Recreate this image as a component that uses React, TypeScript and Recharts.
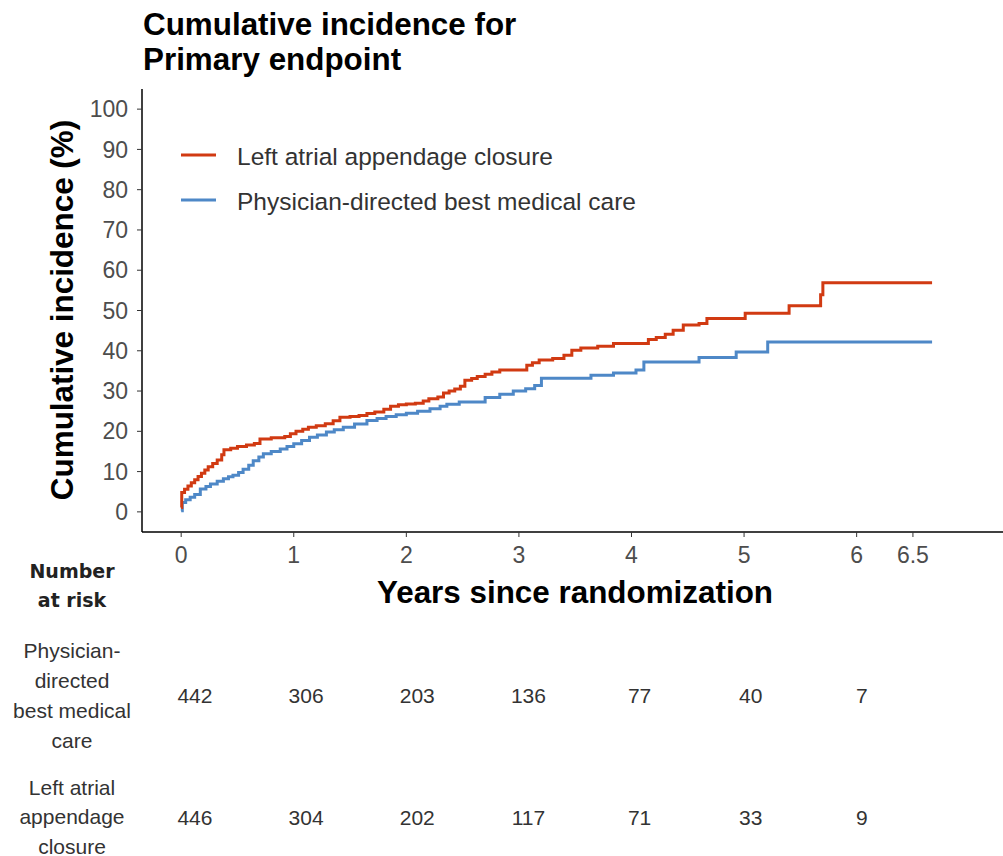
import { LineChart, Line, XAxis, YAxis, ScatterChart, Scatter } from 'recharts'

// cumulative incidence (%), step curves
const laacYears = [0, 0.005, 0.03, 0.06, 0.09, 0.12, 0.15, 0.18, 0.21, 0.24, 0.28, 0.32, 0.36, 0.38, 0.44, 0.5, 0.58, 0.65, 0.7, 0.8, 0.92, 0.97, 1.02, 1.08, 1.13, 1.2, 1.28, 1.35, 1.41, 1.5, 1.58, 1.65, 1.72, 1.8, 1.86, 1.93, 2.0, 2.08, 2.15, 2.2, 2.28, 2.33, 2.38, 2.43, 2.48, 2.52, 2.58, 2.63, 2.7, 2.76, 2.83, 3.07, 3.12, 3.18, 3.3, 3.4, 3.47, 3.55, 3.7, 3.84, 4.15, 4.22, 4.3, 4.37, 4.46, 4.6, 4.67, 5.01, 5.4, 5.68, 5.7, 6.67]
const laacPct = [1.1, 4.8, 5.6, 6.4, 7.2, 8.0, 8.8, 9.6, 10.4, 11.2, 12.0, 12.9, 14.2, 15.4, 15.8, 16.2, 16.6, 17.0, 18.1, 18.4, 18.7, 19.4, 20.0, 20.5, 21.0, 21.4, 21.9, 22.6, 23.5, 23.7, 23.9, 24.4, 24.8, 25.5, 26.2, 26.6, 26.8, 27.0, 27.5, 28.1, 28.5, 29.5, 30.0, 30.5, 31.2, 32.7, 33.1, 33.6, 34.2, 34.7, 35.2, 36.4, 37.0, 37.7, 38.1, 38.9, 40.1, 40.7, 41.1, 41.8, 42.8, 43.3, 44.1, 45.1, 46.4, 46.8, 48.0, 49.3, 51.2, 53.9, 56.9, 56.9]

const bmcYears = [0, 0.01, 0.04, 0.08, 0.12, 0.17, 0.22, 0.26, 0.32, 0.375, 0.42, 0.46, 0.51, 0.55, 0.6, 0.64, 0.69, 0.73, 0.8, 0.88, 0.94, 1.0, 1.07, 1.14, 1.21, 1.29, 1.36, 1.44, 1.54, 1.65, 1.74, 1.82, 1.91, 2.0, 2.1, 2.21, 2.3, 2.36, 2.47, 2.7, 2.83, 2.95, 3.06, 3.14, 3.2, 3.64, 3.84, 4.04, 4.11, 4.6, 4.93, 5.21, 6.67]
const bmcPct = [0.25, 2.3, 3.0, 3.6, 4.3, 5.7, 6.3, 6.9, 7.6, 8.2, 8.7, 9.1, 9.8, 10.6, 11.6, 12.7, 13.6, 14.4, 15.0, 15.6, 16.2, 16.9, 17.7, 18.5, 19.1, 19.8, 20.4, 21.0, 21.8, 22.7, 23.2, 23.7, 24.1, 24.5, 25.0, 25.6, 26.2, 26.7, 27.3, 28.4, 29.2, 30.0, 30.6, 31.4, 33.2, 33.9, 34.5, 35.2, 37.2, 38.3, 39.7, 42.2, 42.2]

const xTicks = [0, 1, 2, 3, 4, 5, 6, 6.5]
const yTicks = [0, 10, 20, 30, 40, 50, 60, 70, 80, 90, 100]

const riskYears = [0, 1, 2, 3, 4, 5, 6]
const riskBmc = [442, 306, 203, 136, 77, 40, 7]
const riskLaac = [446, 304, 202, 117, 71, 33, 9]

const seriesNames = ['Left atrial appendage closure', 'Physician-directed best medical care']
const seriesColors = ['#D13A12', '#4E88C7']
const riskLabels = [
  ['Physician-', 'directed', 'best medical', 'care'],
  ['Left atrial', 'appendage', 'closure'],
]

const FONT = '"Liberation Sans", Arial, sans-serif'

const laacData = laacYears.map((t, i) => ({ t, v: laacPct[i] }))
const bmcData = bmcYears.map((t, i) => ({ t, v: bmcPct[i] }))
const riskRows = [
  riskYears.map((t, i) => ({ t, row: 0, n: riskBmc[i] })),
  riskYears.map((t, i) => ({ t, row: 1, n: riskLaac[i] })),
]

const RiskNumber = (props: any) => (
  <text x={props.cx} y={props.cy} textAnchor="middle" dominantBaseline="central"
    fontSize={21} fill="#333" fontFamily={FONT}>
    {props.payload.n}
  </text>
)

export default function App() {
  return (
    <div style={{ position: 'absolute', left: 0, top: 0, width: 1003, height: 856, overflow: 'hidden', background: '#fff' }}>
      <div style={{ position: 'absolute', left: 0, top: 0 }}>
        <LineChart width={1003} height={600} margin={{ top: 89, right: 0, bottom: 0, left: 0 }}>
          <XAxis type="number" dataKey="t" domain={[-0.348, 7.3]} ticks={xTicks} interval={0} allowDataOverflow
            height={68} tickSize={5} tickMargin={10}
            tickFormatter={(v: number) => String(v)}
            axisLine={{ stroke: '#000', strokeWidth: 1.5 }} tickLine={{ stroke: '#333' }}
            tick={{ fontSize: 23, fill: '#4d4d4d', fontFamily: FONT }} />
          <YAxis type="number" domain={[-5, 105]} ticks={yTicks} interval={0} allowDataOverflow
            width={142} tickSize={5} tickMargin={9}
            axisLine={{ stroke: '#000', strokeWidth: 1.5 }} tickLine={{ stroke: '#333' }}
            tick={{ fontSize: 23, fill: '#4d4d4d', fontFamily: FONT }} />
          <Line data={bmcData} dataKey="v" type="stepAfter" stroke={seriesColors[1]} strokeWidth={3}
            dot={false} isAnimationActive={false} />
          <Line data={laacData} dataKey="v" type="stepAfter" stroke={seriesColors[0]} strokeWidth={3}
            dot={false} isAnimationActive={false} />
        </LineChart>
      </div>

      {/* number at risk table */}
      <div style={{ position: 'absolute', left: 0, top: 0 }}>
        <ScatterChart width={1003} height={878} margin={{ top: 634, right: 0, bottom: 0, left: 156 }}>
          <XAxis type="number" dataKey="t" domain={[-0.35, 7.269]} hide />
          <YAxis type="number" dataKey="row" domain={[-0.5, 1.5]} reversed hide />
          {riskRows.map((rows, i) => (
            <Scatter key={i} data={rows} shape={RiskNumber} isAnimationActive={false} />
          ))}
        </ScatterChart>
      </div>

      <svg width={1003} height={856} style={{ position: 'absolute', left: 0, top: 0, pointerEvents: 'none' }}>
        <text x={143} y={35} fontSize={31.4} fontWeight="bold" fontFamily={FONT} fill="#000">Cumulative incidence for</text>
        <text x={143} y={70} fontSize={31.4} fontWeight="bold" fontFamily={FONT} fill="#000">Primary endpoint</text>

        <text transform="translate(73,310) rotate(-90)" textAnchor="middle" fontSize={31.4} fontWeight="bold"
          fontFamily={FONT} fill="#000">Cumulative incidence (%)</text>
        <text x={575} y={603} textAnchor="middle" fontSize={31.4} fontWeight="bold" fontFamily={FONT} fill="#000">
          Years since randomization
        </text>

        {seriesNames.map((name, i) => (
          <g key={name}>
            <line x1={181} x2={216} y1={155 + i * 45} y2={155 + i * 45} stroke={seriesColors[i]} strokeWidth={3} />
            <text x={237} y={156 + i * 45} dominantBaseline="central" fontSize={24.5} fontFamily={FONT} fill="#333">{name}</text>
          </g>
        ))}

        <text x={72} y={571} textAnchor="middle" dominantBaseline="central" fontSize={19} fontWeight="bold"
          fontFamily='"DejaVu Sans", sans-serif' fill="#222">Number</text>
        <text x={72} y={600} textAnchor="middle" dominantBaseline="central" fontSize={19} fontWeight="bold"
          fontFamily='"DejaVu Sans", sans-serif' fill="#222">at risk</text>

        {riskLabels[0].map((s, i) => (
          <text key={s} x={72} y={650 + i * 30} textAnchor="middle" dominantBaseline="central" fontSize={21}
            fontFamily={FONT} fill="#333">{s}</text>
        ))}
        {riskLabels[1].map((s, i) => (
          <text key={s} x={72} y={787 + i * 29.5} textAnchor="middle" dominantBaseline="central" fontSize={21}
            fontFamily={FONT} fill="#333">{s}</text>
        ))}
      </svg>
    </div>
  )
}
